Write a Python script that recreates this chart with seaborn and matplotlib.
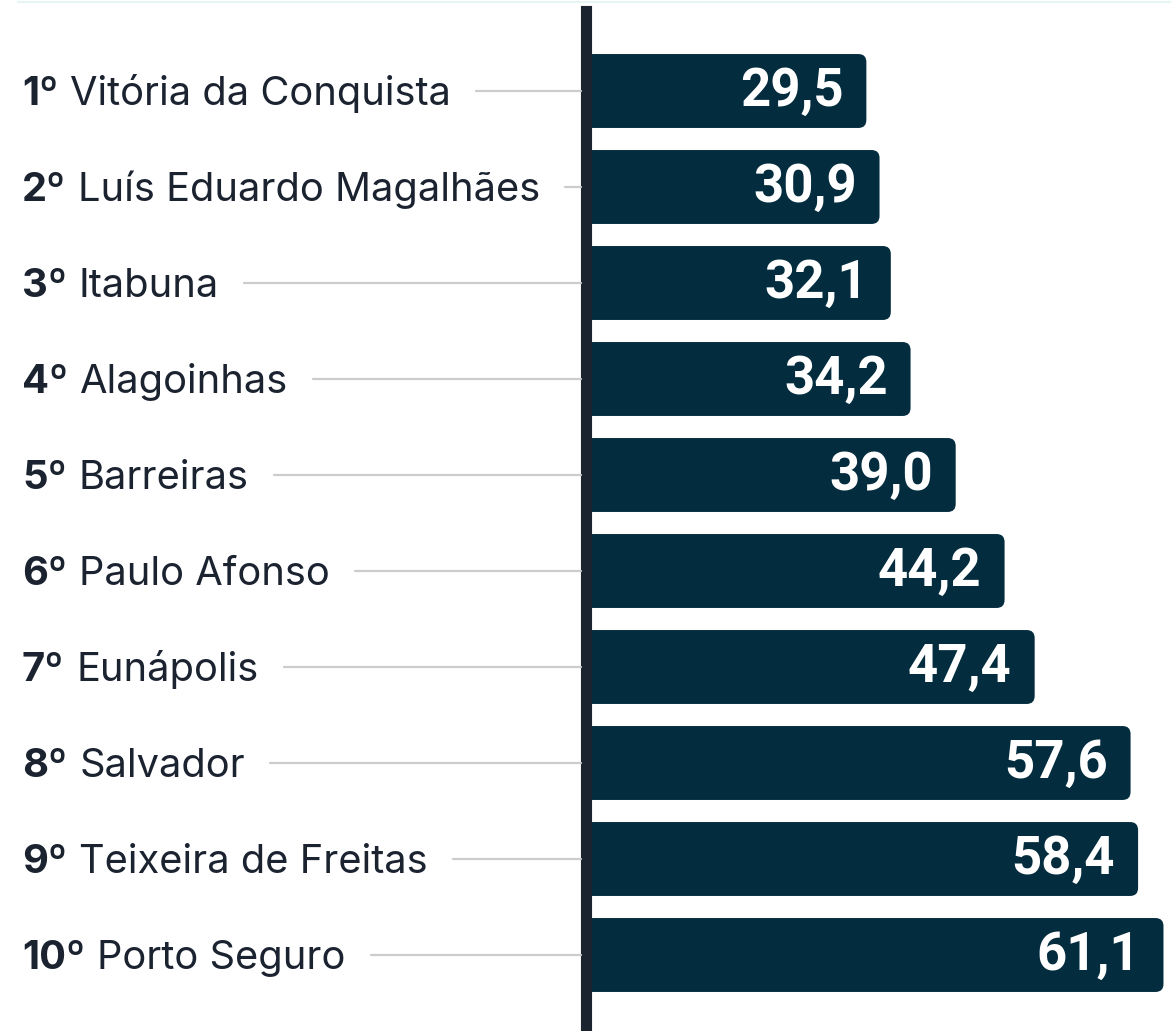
import matplotlib
matplotlib.use("Agg")
import matplotlib.pyplot as plt
import matplotlib.transforms as mtransforms
from matplotlib.lines import Line2D
from matplotlib.patches import FancyBboxPatch
import pandas as pd
import seaborn as sns

# data
ranks = ["1º", "2º", "3º", "4º", "5º", "6º", "7º", "8º", "9º", "10º"]
cities = ["Vitória da Conquista", "Luís Eduardo Magalhães", "Itabuna", "Alagoinhas",
          "Barreiras", "Paulo Afonso", "Eunápolis", "Salvador",
          "Teixeira de Freitas", "Porto Seguro"]
values = [29.5, 30.9, 32.1, 34.2, 39.0, 44.2, 47.4, 57.6, 58.4, 61.1]

df = pd.DataFrame({"cidade": cities, "valor": values})

BAR = "#032c3e"
DARK = "#1b2330"
GRID = "#cccccc"
W, H = 1171, 1031

sns.set_theme(style="white")
plt.rcParams["font.family"] = ["Inter", "DejaVu Sans"]

fig = plt.figure(figsize=(W / 100, H / 100), dpi=100)
ax = fig.add_axes([589 / W, 0, (W - 589) / W, 1])

sns.barplot(data=df, x="valor", y="cidade", color=BAR, width=0.77, ax=ax, saturation=1)
ax.set_xlim(0, 61.9)
ax.set_ylim((H - 91) / 96, -91 / 96)

# rounded bars
for p in list(ax.patches):
    x0, y0, w, h = p.get_x(), p.get_y(), p.get_width(), p.get_height()
    p.remove()
    ax.add_patch(FancyBboxPatch((x0 - 2, y0), w + 2, h,
                                boxstyle="round,pad=0,rounding_size=0.85",
                                mutation_aspect=0.098, fc=BAR, ec="none"))

for i, v in enumerate(values):
    ax.annotate(f"{v:.1f}".replace(".", ","), xy=(v, i), xytext=(-23, 0),
                textcoords="offset pixels", ha="right", va="center",
                color="white", fontsize=38, fontweight="bold", family=["Roboto", "DejaVu Sans"])

ax.set_xlabel("")
ax.set_ylabel("")
ax.set_xticks([])
ax.set_yticks([])
for s in ["top", "right", "bottom"]:
    ax.spines[s].set_visible(False)
ax.spines["left"].set_color(DARK)
ax.spines["left"].set_linewidth(8)
ax.spines["left"].set_position(("outward", 2.5))
ax.spines["left"].set_bounds((H - 91) / 96, (11 - 91) / 96)

# city labels
blend = mtransforms.blended_transform_factory(fig.transFigure, ax.transData)
names = []
for i, (r, c) in enumerate(zip(ranks, cities)):
    ra = ax.annotate(r, xy=(22 / W, i), xycoords=blend, xytext=(0, -14),
                     textcoords="offset pixels", ha="left", va="baseline",
                     fontsize=28.7, fontweight="bold", color=DARK, annotation_clip=False)
    na = ax.annotate(c, xy=(1, 0), xycoords=ra, xytext=(12, 0),
                     textcoords="offset pixels", ha="left", va="bottom",
                     fontsize=28.7, color=DARK, annotation_clip=False)
    names.append(na)

fig.canvas.draw()
renderer = fig.canvas.get_renderer()
pix = mtransforms.blended_transform_factory(mtransforms.IdentityTransform(), ax.transData)
for i, na in enumerate(names):
    x1 = na.get_window_extent(renderer).x1
    fig.add_artist(Line2D([x1 + 25, 581], [i, i], transform=pix, color=GRID, lw=1.6))

# faint top rule
fig.add_artist(Line2D([18 / W, 1], [1 - 2 / H, 1 - 2 / H], color="#e6f4f4", lw=1.5))

fig.savefig("out.png", dpi=100, facecolor="white")
